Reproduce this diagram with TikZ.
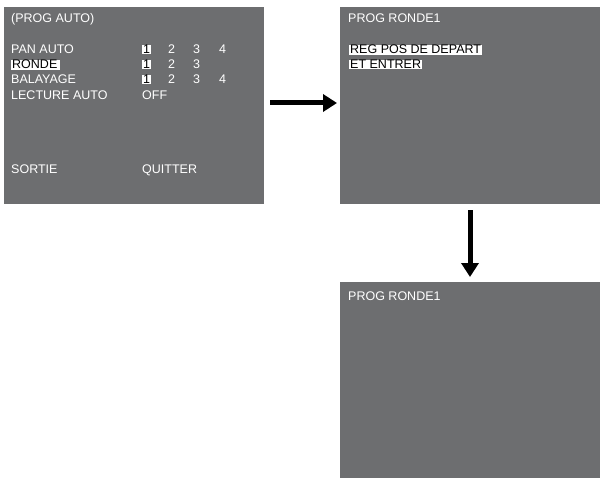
\documentclass[tikz,border=0pt]{standalone}
\usepackage{fontspec}
\setmainfont{Liberation Sans}
\usetikzlibrary{arrows.meta}
\definecolor{scr}{HTML}{6D6E70}
\begin{document}
\begin{tikzpicture}[x=1pt,y=-1pt,
  panel/.style={fill=scr,draw=none},
  txt/.style={anchor=base west,inner sep=0pt,text=white,font=\fontsize{12.5}{14}\selectfont},
  hl/.style={txt,fill=white,text=black,inner xsep=1pt,inner ysep=0.5pt},
  arr/.style={line width=5pt,-{Triangle[length=14pt,width=17pt]}}]
\useasboundingbox (0,0) rectangle (601,478);
\fill[panel] (4,7) rectangle (264,204);
\fill[panel] (340,7) rectangle (600,204);
\fill[panel] (340,282) rectangle (600,478);
% panel 1
\node[txt] (t0) at (11,23) {(PROG AUTO)};
\node[txt] (t1) at (11,54) {PAN AUTO};
\node[hl] (t2) at (11,69) {RONDE\,};
\node[txt] (t3) at (11,84) {BALAYAGE};
\node[txt] (t4) at (11,100) {LECTURE AUTO};
\node[txt] (t5) at (11,174) {SORTIE};
\foreach \r/\y in {a/54,b/69,c/84}{
  \node[hl] (\r1) at (142,\y) {1};
  \node[txt] (\r2) at (168,\y) {2};
  \node[txt] (\r3) at (193,\y) {3};
}
\node[txt] (a4) at (219,54) {4};
\node[txt] (c4) at (219,84) {4};
\node[txt] (off) at (142,100) {OFF};
\node[txt] (q) at (142,174) {QUITTER};
% panel 2
\node[txt] (p2) at (348,23) {PROG RONDE1};
\node[hl] (r1) at (349,54) {REG POS DE DEPART};
\node[hl] (r2) at (349,69) {ET ENTRER};
% panel 3
\node[txt] (p3) at (348,300) {PROG RONDE1};
\coordinate (h1) at (270,103);
\coordinate (h2) at (337,103);
\coordinate (v1) at (470,210);
\coordinate (v2) at (470,277);
\draw[arr] (h1) -- (h2);
\draw[arr] (v1) -- (v2);
\end{tikzpicture}
\end{document}
